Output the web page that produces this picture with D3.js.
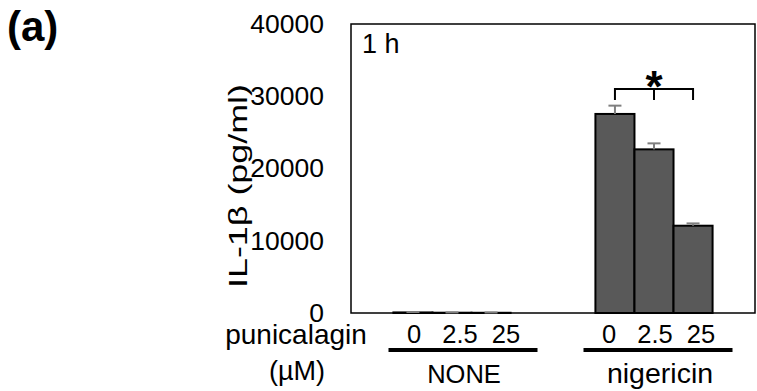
<!DOCTYPE html>
<html>
<head>
<meta charset="utf-8">
<script src="https://cdn.jsdelivr.net/npm/d3@7"></script>
<style>
  body { margin: 0; background: #fff; }
  text { font-family: Arial, "Liberation Sans", sans-serif; fill: #000; }
</style>
</head>
<body>
<svg id="chart" width="757" height="391"></svg>
<script>
// data
var groups = ["NONE", "nigericin"];
var doses = ["0", "2.5", "25"];
var means = [[80, 40, 30], [27550, 22650, 12080]];
var errors = [[60, 40, 40], [1150, 830, 320]];
var yTicks = [0, 10000, 20000, 30000, 40000];

var svg = d3.select("#chart"),
    margin = {top: 24, right: 2, bottom: 78, left: 351},
    width = +svg.attr("width") - margin.left - margin.right,
    height = +svg.attr("height") - margin.top - margin.bottom;

var x0 = d3.scaleBand()
    .domain(groups)
    .range([0, width])
    .paddingInner(0.42)
    .paddingOuter(0.21);

var x1 = d3.scaleBand()
    .domain(doses)
    .range([0, x0.bandwidth()]);

var y = d3.scaleLinear()
    .domain([0, 40000])
    .range([height, 0]);

var g = svg.append("g")
    .attr("transform", "translate(" + margin.left + "," + margin.top + ")");

// y axis labels (no tick marks)
var yAxis = g.append("g")
    .call(d3.axisLeft(y).tickValues(yTicks).tickSize(0).tickPadding(27).tickFormat(d3.format("d")));
yAxis.select(".domain").remove();
yAxis.selectAll("text")
    .style("font-size", "26.5px")
    .attr("fill", "#000");

// plot box
g.append("rect")
    .attr("width", width)
    .attr("height", height)
    .attr("fill", "none")
    .attr("stroke", "#000")
    .attr("stroke-width", 1.5);

// bars
var rows = [];
groups.forEach(function (grp, i) {
    doses.forEach(function (d, j) {
        rows.push({group: grp, dose: d, value: means[i][j], err: errors[i][j]});
    });
});

var bar = g.selectAll(".bar")
    .data(rows)
    .enter()
    .append("g")
    .attr("class", "bar")
    .attr("transform", function (d) { return "translate(" + x0(d.group) + ",0)"; });

bar.append("rect")
    .attr("x", function (d) { return x1(d.dose); })
    .attr("y", function (d) { return y(d.value); })
    .attr("width", x1.bandwidth())
    .attr("height", function (d) { return height - y(d.value); })
    .attr("fill", "#595959")
    .attr("stroke", "#000")
    .attr("stroke-width", 2);

// error bars (upper only)
var cx = function (d) { return x1(d.dose) + x1.bandwidth() / 2; };
bar.append("line")
    .attr("x1", cx).attr("x2", cx)
    .attr("y1", function (d) { return y(d.value); })
    .attr("y2", function (d) { return y(d.value + d.err); })
    .attr("stroke", "#7f7f7f")
    .attr("stroke-width", 2);
bar.append("line")
    .attr("x1", function (d) { return cx(d) - 6.5; })
    .attr("x2", function (d) { return cx(d) + 6.5; })
    .attr("y1", function (d) { return y(d.value + d.err); })
    .attr("y2", function (d) { return y(d.value + d.err); })
    .attr("stroke", "#7f7f7f")
    .attr("stroke-width", 2);

// significance bracket over nigericin
var sg = "nigericin";
var bx = function (d) { return x0(sg) + x1(d) + x1.bandwidth() / 2; };
var by = 65, bdrop = 11;
g.append("path")
    .attr("d", "M" + bx("0") + "," + (by + bdrop) + "V" + by + "H" + bx("25") + "V" + (by + bdrop)
        + "M" + bx("2.5") + "," + by + "V" + (by + bdrop))
    .attr("fill", "none")
    .attr("stroke", "#000")
    .attr("stroke-width", 2);
g.append("text")
    .attr("x", bx("2.5"))
    .attr("y", by + 13)
    .attr("text-anchor", "middle")
    .style("font-size", "44px")
    .style("font-weight", "bold")
    .text("*");

// "1 h" label
g.append("text")
    .attr("x", 11)
    .attr("y", 29)
    .style("font-size", "27px")
    .text("1 h");

// category annotations below the plot
var labShift = [8, 1], lineShift = [11, 4], nameShift = [12, 6];
var nameSize = ["25.5px", "28.5px"];
groups.forEach(function (grp, i) {
    var c = x0(grp) + x0.bandwidth() / 2;
    doses.forEach(function (d, j) {
        g.append("text")
            .attr("x", c + labShift[i] + (j - 1) * 46)
            .attr("y", height + 30)
            .attr("text-anchor", "middle")
            .style("font-size", "25.5px")
            .text(d);
    });
    g.append("line")
        .attr("x1", c + lineShift[i] - 74.5)
        .attr("x2", c + lineShift[i] + 74.5)
        .attr("y1", height + 37)
        .attr("y2", height + 37)
        .attr("stroke", "#000")
        .attr("stroke-width", 4);
    g.append("text")
        .attr("x", c + nameShift[i])
        .attr("y", height + 70)
        .attr("text-anchor", "middle")
        .style("font-size", nameSize[i])
        .text(grp);
});

g.append("text")
    .attr("x", -55)
    .attr("y", height + 31)
    .attr("text-anchor", "middle")
    .style("font-size", "28px")
    .text("punicalagin");
g.append("text")
    .attr("x", -54)
    .attr("y", height + 67)
    .attr("text-anchor", "middle")
    .style("font-size", "27px")
    .text("(µM)");

// y axis title, stretched along its length like the original
svg.append("text")
    .attr("transform", "translate(247,186) rotate(-90) scale(1.38,1)")
    .attr("text-anchor", "middle")
    .style("font-size", "26px")
    .text("IL-1β (pg/ml)");

// panel letter
svg.append("text")
    .attr("x", 7)
    .attr("y", 41)
    .style("font-size", "42px")
    .style("font-weight", "bold")
    .text("(a)");
</script>
</body>
</html>
